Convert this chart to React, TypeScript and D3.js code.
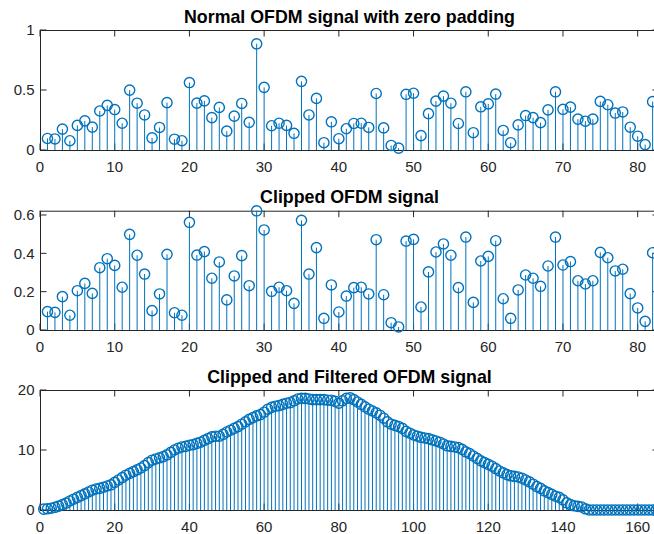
import React from 'react';
import * as d3 from 'd3';

// ---- data ----
const normalSignal = [
  0.096, 0.092, 0.174, 0.077, 0.205, 0.243, 0.191, 0.325, 0.372, 0.337,
  0.223, 0.499, 0.39, 0.292, 0.101, 0.188, 0.395, 0.09, 0.077, 0.562,
  0.391, 0.409, 0.27, 0.355, 0.157, 0.282, 0.388, 0.231, 0.885, 0.522,
  0.202, 0.223, 0.205, 0.139, 0.572, 0.292, 0.43, 0.061, 0.235, 0.094,
  0.177, 0.221, 0.223, 0.188, 0.471, 0.184, 0.038, 0.016, 0.464, 0.473,
  0.12, 0.303, 0.407, 0.449, 0.39, 0.221, 0.485, 0.144, 0.36, 0.384,
  0.466, 0.163, 0.061, 0.209, 0.287, 0.27, 0.228, 0.334, 0.485, 0.339,
  0.357, 0.257, 0.24, 0.257, 0.405, 0.377, 0.308, 0.317, 0.19, 0.115,
  0.045, 0.403,
];

const clippedSignal = [
  0.096, 0.092, 0.174, 0.077, 0.205, 0.243, 0.191, 0.325, 0.372, 0.337,
  0.223, 0.499, 0.39, 0.292, 0.101, 0.188, 0.395, 0.09, 0.077, 0.562,
  0.391, 0.409, 0.27, 0.355, 0.157, 0.282, 0.388, 0.231, 0.622, 0.522,
  0.202, 0.223, 0.205, 0.139, 0.572, 0.292, 0.43, 0.061, 0.235, 0.094,
  0.177, 0.221, 0.223, 0.188, 0.471, 0.184, 0.038, 0.016, 0.464, 0.473,
  0.12, 0.303, 0.407, 0.449, 0.39, 0.221, 0.485, 0.144, 0.36, 0.384,
  0.466, 0.163, 0.061, 0.209, 0.287, 0.27, 0.228, 0.334, 0.485, 0.339,
  0.357, 0.257, 0.24, 0.257, 0.405, 0.377, 0.308, 0.317, 0.19, 0.115,
  0.045, 0.403,
];

const filteredSignal = [
  0.15, 0.2, 0.3, 0.45, 0.65, 0.9, 1.15, 1.5, 1.8, 2.1,
  2.4, 2.7, 3.0, 3.3, 3.5, 3.6, 3.8, 4.0, 4.2, 4.6,
  5.0, 5.4, 5.8, 6.1, 6.4, 6.7, 7.0, 7.4, 7.9, 8.3,
  8.5, 8.7, 8.9, 9.2, 9.6, 10.0, 10.3, 10.5, 10.6, 10.8,
  10.9, 11.1, 11.3, 11.6, 11.9, 12.2, 12.3, 12.3, 12.6, 13.0,
  13.3, 13.6, 13.9, 14.3, 14.7, 15.1, 15.4, 15.7, 15.9, 16.3,
  16.8, 17.1, 17.3, 17.4, 17.6, 17.8, 17.9, 18.2, 18.5, 18.6,
  18.6, 18.5, 18.4, 18.4, 18.4, 18.4, 18.3, 18.3, 18.1, 17.8,
  18.2, 18.6, 18.7, 18.4, 18.0, 17.6, 17.2, 16.8, 16.5, 16.2,
  15.8, 15.3, 14.7, 14.3, 14.1, 13.9, 13.6, 13.1, 12.8, 12.5,
  12.3, 12.1, 12.0, 11.9, 11.7, 11.5, 11.3, 11.0, 10.7, 10.6,
  10.5, 10.4, 10.1, 9.7, 9.4, 9.0, 8.6, 8.2, 7.9, 7.6,
  7.3, 6.9, 6.5, 6.2, 5.9, 5.7, 5.6, 5.5, 5.3, 5.0,
  4.7, 4.3, 3.9, 3.6, 3.2, 2.9, 2.6, 2.3, 2.1, 1.7,
  1.2, 0.9, 0.7, 0.6, 0.5, 0.2, 0, 0, 0, 0,
  0, 0, 0, 0, 0, 0, 0, 0, 0, 0,
  0, 0, 0, 0, 0, 0,
];

const titles = [
  'Normal OFDM signal with zero padding',
  'Clipped OFDM signal',
  'Clipped and Filtered OFDM signal',
];
const xTicksShort = [0, 10, 20, 30, 40, 50, 60, 70, 80];
const xTicksLong = [0, 20, 40, 60, 80, 100, 120, 140, 160];
const yTicksNormal = [0, 0.5, 1];
const yTicksClipped = [0, 0.2, 0.4, 0.6];
const yTicksFiltered = [0, 10, 20];

// ---- layout ----
const W = 654;
const H = 534;
const LEFT = 40;
const RIGHT = 659;
const PX_PER_UNIT_SHORT = 7.471;
const PX_PER_UNIT_LONG = 3.7356;
const AX = '#262626';
const BLUE = '#0072BD';
const FONT = '"Liberation Sans", Arial, Helvetica, sans-serif';
const TICK = 6.5;

type PanelProps = {
  title: string;
  data: number[];
  xMax: number;
  xTicks: number[];
  yMax: number;
  yTicks: number[];
  top: number;
  bottom: number;
};

function Panel({ title, data, xMax, xTicks, yMax, yTicks, top, bottom }: PanelProps) {
  const x = d3.scaleLinear().domain([0, xMax]).range([LEFT, RIGHT]);
  const y = d3.scaleLinear().domain([0, yMax]).range([bottom, top]);
  const points = data.map((v, i) => ({ i: i + 1, v }));
  const cx = (LEFT + RIGHT) / 2;
  return (
    <g>
      <rect x={LEFT + 0.5} y={top + 0.5} width={RIGHT - LEFT} height={bottom - top}
        fill="none" stroke={AX} strokeWidth={1} />
      {xTicks.map((t) => (
        <g key={'xt' + t}>
          <line x1={x(t)} x2={x(t)} y1={bottom} y2={bottom - TICK} stroke={AX} strokeWidth={1} />
          <line x1={x(t)} x2={x(t)} y1={top} y2={top + TICK} stroke={AX} strokeWidth={1} />
          <text x={x(t)} y={bottom + 22} textAnchor="middle" fontSize={15}
            fontFamily={FONT} fill={AX}>{String(t)}</text>
        </g>
      ))}
      {yTicks.map((t) => (
        <g key={'yt' + t}>
          <line x1={LEFT} x2={LEFT + TICK} y1={y(t)} y2={y(t)} stroke={AX} strokeWidth={1} />
          <line x1={RIGHT} x2={RIGHT - TICK} y1={y(t)} y2={y(t)} stroke={AX} strokeWidth={1} />
          <text x={34.5} y={y(t)} dy="0.36em" textAnchor="end" fontSize={15}
            fontFamily={FONT} fill={AX}>{String(t)}</text>
        </g>
      ))}
      {points.map((p) => (
        <line key={'s' + p.i} x1={x(p.i)} x2={x(p.i)} y1={y(0)} y2={y(p.v)}
          stroke={BLUE} strokeWidth={1} />
      ))}
      {points.map((p) => (
        <circle key={'c' + p.i} cx={x(p.i)} cy={y(p.v)} r={5.1}
          fill="none" stroke={BLUE} strokeWidth={1.4} />
      ))}
      <text x={cx} y={top - 7.5} textAnchor="middle" fontSize={17.8} fontWeight="bold"
        fontFamily={FONT} fill="#000">{title}</text>
    </g>
  );
}

export default function App() {
  const shortMax = (RIGHT - LEFT) / PX_PER_UNIT_SHORT;
  const longMax = (RIGHT - LEFT) / PX_PER_UNIT_LONG;
  return (
    <svg width={W} height={H} style={{ position: 'absolute', left: 0, top: 0, background: '#fff' }}>
      <rect x={0} y={0} width={W} height={H} fill="#fff" />
      <Panel title={titles[0]} data={normalSignal} xMax={shortMax} xTicks={xTicksShort}
        yMax={1} yTicks={yTicksNormal} top={30} bottom={150} />
      <Panel title={titles[1]} data={clippedSignal} xMax={shortMax} xTicks={xTicksShort}
        yMax={0.6224} yTicks={yTicksClipped} top={210.7} bottom={330} />
      <Panel title={titles[2]} data={filteredSignal} xMax={longMax} xTicks={xTicksLong}
        yMax={20} yTicks={yTicksFiltered} top={390} bottom={510} />
    </svg>
  );
}
